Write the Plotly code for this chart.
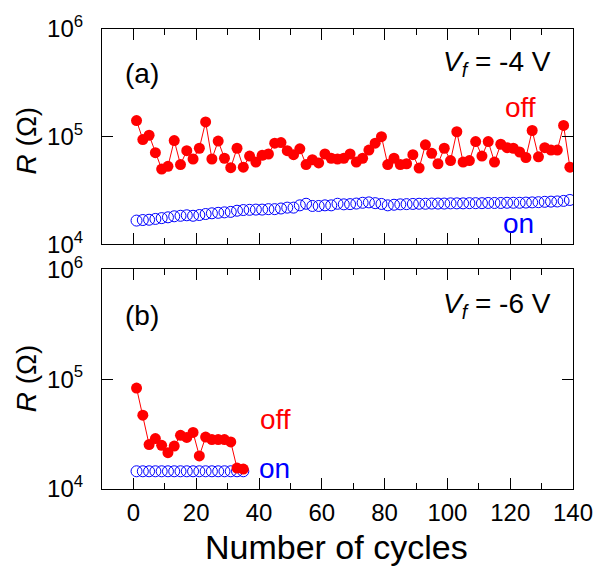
import plotly.graph_objects as go

# Cycle numbers (every second cycle)
cycles_a = list(range(1, 140, 2))
cycles_b = list(range(1, 36, 2))

# Panel (a): V_f = -4 V
off_a = [
    141000, 94000, 103000, 71000, 50000, 53000, 92000, 55000, 74000, 62000,
    78000, 137000, 62000, 91000, 63000, 51500, 78000, 52000, 66000, 58000,
    67000, 69000, 87000, 88000, 74000, 68000, 77000, 55000, 61000, 57000,
    69000, 63000, 62000, 63000, 69000, 58000, 63000, 75000, 87000, 100000,
    55000, 63000, 55000, 56000, 68000, 51000, 84000, 70000, 56000, 78000,
    60000, 111000, 58000, 60000, 90000, 66000, 90000, 58000, 85000, 79000,
    78000, 72000, 64000, 114000, 65000, 79000, 75000, 75000, 127000, 52000,
]
on_a = [
    16600, 16800, 16900, 17200, 17500, 17800, 18200, 18400, 18600, 18400,
    18700, 19100, 19400, 19600, 19800, 20000, 20500, 20800, 20900, 21000,
    21000, 21200, 21200, 21500, 21900, 21900, 23000, 23800, 22700, 22700,
    23000, 23000, 23800, 23500, 23600, 23900, 24300, 24500, 24100, 23700,
    23000, 23300, 23500, 23600, 23700, 23800, 23800, 23900, 23900, 23900,
    24000, 24000, 24000, 24100, 24100, 24100, 24200, 24200, 24200, 24300,
    24300, 24300, 24400, 24500, 24600, 24800, 24900, 25000, 25300, 25800,
]

# Panel (b): V_f = -6 V
off_b = [
    83000, 47000, 25400, 28800, 25000, 21400, 24600, 30800, 29500, 32700,
    20000, 29700, 28200, 28200, 28200, 26800, 15500, 15200,
]
on_b = [14500] * 18

y_ticks = [1e4, 1e5, 1e6]
y_ticktext = ["10<sup>4</sup>", "10<sup>5</sup>", "10<sup>6</sup>"]

RED = "#ff0000"
BLUE = "#0000ff"
FONT = "Liberation Sans, Arial, sans-serif"

fig = go.Figure()


def add_panel(xs, off, on, xa, ya):
    fig.add_trace(go.Scatter(
        x=xs, y=on, mode="markers", xaxis=xa, yaxis=ya,
        marker=dict(symbol="circle-open", size=11, color=BLUE,
                    line=dict(width=1, color=BLUE)),
        showlegend=False, hoverinfo="skip"))
    fig.add_trace(go.Scatter(
        x=xs, y=off, mode="lines+markers", xaxis=xa, yaxis=ya,
        line=dict(color=RED, width=1),
        marker=dict(symbol="circle", size=11, color=RED),
        showlegend=False, hoverinfo="skip"))


add_panel(cycles_a, off_a, on_a, "x", "y")
add_panel(cycles_b, off_b, on_b, "x2", "y2")

xaxis_common = dict(
    range=[-10, 140], dtick=20, tick0=0,
    showline=True, linecolor="black", linewidth=1.2, mirror="ticks",
    ticks="inside", ticklen=11, tickwidth=1.2, tickcolor="black",
    minor=dict(dtick=10, tick0=0, ticks="inside", ticklen=6,
               tickwidth=1.2, tickcolor="black"),
    showgrid=False, zeroline=False,
    tickfont=dict(family=FONT, size=24, color="black"),
)
yaxis_common = dict(
    type="log", range=[4, 6], tickvals=y_ticks, ticktext=y_ticktext,
    showline=True, linecolor="black", linewidth=1.2, mirror="ticks",
    ticks="inside", ticklen=11, tickwidth=1.2, tickcolor="black",
    showgrid=False, zeroline=False, ticklabelstandoff=13,
    tickfont=dict(family=FONT, size=24, color="black"),
)

fig.update_layout(
    width=605, height=568,
    margin=dict(l=102, r=22, t=20, b=79),
    paper_bgcolor="white", plot_bgcolor="white",
    xaxis=dict(xaxis_common, domain=[0, 1], anchor="y", showticklabels=False),
    yaxis=dict(yaxis_common, domain=[0.532, 1.0], anchor="x"),
    xaxis2=dict(xaxis_common, domain=[0, 1], anchor="y2", ticklabelstandoff=2),
    yaxis2=dict(yaxis_common, domain=[0, 0.4776], anchor="x2"),
)

big = dict(family=FONT, size=28, color="black")
ann = [
    dict(text="(a)", x=0.085, y=0.904, font=big),
    dict(text="(b)", x=0.085, y=0.377, font=big),
    dict(text="<i>V</i><sub><i>f</i></sub> = -4 V", x=0.958, y=0.925,
         xanchor="right", font=big),
    dict(text="<i>V</i><sub><i>f</i></sub> = -6 V", x=0.958, y=0.399,
         xanchor="right", font=big),
    dict(text="off", x=0.888, y=0.829, font=dict(big, color=RED)),
    dict(text="on", x=0.885, y=0.578, font=dict(big, color=BLUE)),
    dict(text="off", x=0.368, y=0.151, font=dict(big, color=RED)),
    dict(text="on", x=0.366, y=0.045, font=dict(big, color=BLUE)),
    dict(text="<i>R</i> (Ω)", x=-0.160, y=0.757, textangle=-90, font=big),
    dict(text="<i>R</i> (Ω)", x=-0.160, y=0.240, textangle=-90, font=big),
    dict(text="Number of cycles", x=0.498, y=-0.125, font=dict(big, size=34)),
]
for a in ann:
    a.update(xref="paper", yref="paper", showarrow=False)
    a.setdefault("xanchor", "center")
    a.setdefault("yanchor", "middle")
fig.update_layout(annotations=ann)

fig.write_html("out.html")
